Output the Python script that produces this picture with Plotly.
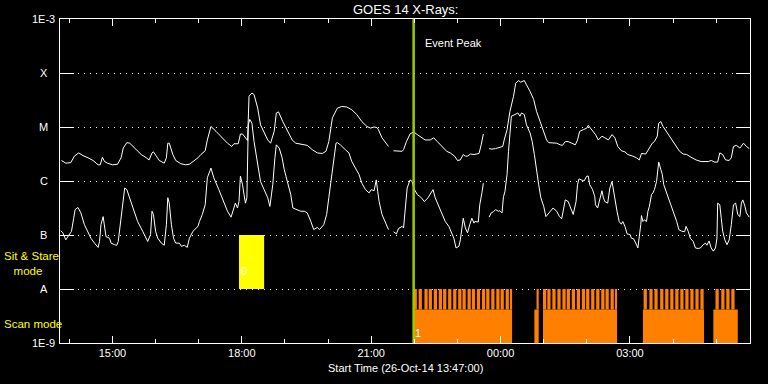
import plotly.graph_objects as go
from datetime import datetime, timedelta

START = datetime(2014, 10, 26, 13, 47)
END = datetime(2014, 10, 27, 5, 47)

# GOES 14 long channel: minutes after start, log10 flux (W/m^2); None = data gap
long_min = [
    2, 8, 15, 20, 26, 32, 39, 46, 53, 56,
    59, 62, 66, 73, 80, 85, 88, 93, 97, 104,
    113, 120, 124, 128, 130, 134, 138, 145, 148, 150,
    152, 157, 161, 168, 175, 180, 187, 192, 196, 202,
    205, 210, 217, 226, 233, 239, 242, 248, 251, 254,
    258, 261, 263, 267, 270, 275, 279, 284, 289, 293,
    298, 301, 304, 310, 316, 323, 328, 337, 344, 351,
    358, 365, 370, 374, 379, 384, 386, 392, 399, 406,
    413, 420, 427, 432, 437, 441, 443, 448, 453, 457,
    None, 464, 471, 476, 478, 482, 487, 492, 497, 502,
    508, 515, 520, 525, 532, 538, 543, 549, 553, 557,
    561, 564, 567, 571, 576, 583, 586, 589, None, 597,
    601, 606, 612, 616, 618, 622, 626, 631, 634, 638,
    641, 646, 649, 654, 659, 663, 668, 673, 677, 680,
    686, 691, 696, 699, 703, 707, 712, 717, 720, 723,
    728, 733, 735, 739, 742, 745, 749, 754, 758, 763,
    768, 772, 776, 781, 786, 790, 797, 802, 806, 809,
    815, 819, 824, 827, 831, 833, 836, 839, 844, 848,
    853, 858, 862, 867, 872, 878, 885, 892, 902, 906,
    911, 915, 918, 922, 926, 931, 934, 937, 941, 946,
    951, 955, 959]
long_log = [
    -5.62, -5.67, -5.66, -5.54, -5.48, -5.53, -5.57, -5.62, -5.70, -5.70,
    -5.56, -5.64, -5.67, -5.70, -5.69, -5.57, -5.39, -5.29, -5.30, -5.39,
    -5.51, -5.57, -5.61, -5.48, -5.46, -5.54, -5.62, -5.67, -5.57, -5.30,
    -5.30, -5.51, -5.62, -5.68, -5.70, -5.69, -5.62, -5.57, -5.51, -5.44,
    -5.24, -4.99, -5.08, -5.20, -5.30, -5.36, -5.31, -5.31, -5.13, -5.13,
    -5.20, -5.25, -4.43, -4.37, -4.40, -4.65, -4.96, -5.11, -5.24, -5.30,
    -5.08, -4.74, -4.72, -4.90, -5.05, -5.24, -5.30, -5.33, -5.34, -5.42,
    -5.48, -5.49, -5.45, -5.27, -4.83, -4.70, -4.65, -4.62, -4.63, -4.68,
    -4.77, -4.90, -4.99, -5.02, -5.00, -5.01, -5.05, -5.20, -5.30, -5.36,
    None, -5.44, -5.45, -5.45, -5.42, -5.27, -5.13, -5.09, -5.14, -5.19,
    -5.24, -5.24, -5.20, -5.27, -5.36, -5.45, -5.48, -5.54, -5.62, -5.61,
    -5.51, -5.54, -5.54, -5.50, -5.51, -5.49, -5.33, -5.13, None, -5.40,
    -5.41, -5.40, -5.38, -5.36, -5.24, -5.05, -4.71, -4.43, -4.19, -4.14,
    -4.17, -4.14, -4.22, -4.34, -4.49, -4.71, -4.90, -5.08, -5.24, -5.29,
    -5.29, -5.30, -5.33, -5.34, -5.27, -5.27, -5.30, -5.33, -5.24, -5.08,
    -5.05, -5.02, -4.97, -5.04, -5.08, -5.14, -5.24, -5.17, -5.20, -5.24,
    -5.14, -5.20, -5.36, -5.44, -5.46, -5.51, -5.54, -5.57, -5.61, -5.49,
    -5.50, -5.40, -5.30, -5.27, -5.17, -4.93, -4.90, -4.99, -5.09, -5.16,
    -5.27, -5.36, -5.45, -5.50, -5.51, -5.56, -5.61, -5.64, -5.64, -5.62,
    -5.65, -5.65, -5.48, -5.51, -5.61, -5.62, -5.57, -5.36, -5.34, -5.39,
    -5.30, -5.36, -5.40]

# GOES 14 short channel
short_min = [
    1, 4, 8, 13, 16, 19, 21, 25, 29, 34,
    39, 43, 48, 53, 55, 57, 60, 62, 64, 69,
    71, 76, 79, 81, 84, 87, 90, 93, 97, 101,
    108, 115, 122, 126, 128, 130, 133, 136, 141, 145,
    148, 150, 152, 155, 158, 161, 166, 169, 173, 177,
    180, 185, 192, 194, 198, 202, 205, 210, 214, 221,
    228, 233, 238, 241, 244, 247, 249, 251, 254, 256,
    258, 260, 262, 264, 267, 270, 275, 279, 284, 289,
    292, 296, 299, 301, 305, 309, 312, 316, 321, 324,
    330, 335, 340, 344, 349, 353, 358, 361, 367, 371,
    374, 378, 384, 386, 390, 397, 402, 406, 411, 416,
    420, 425, 430, 433, 437, 440, 442, 444, 448, 453,
    457, None, 464, 468, 471, 476, 478, 480, 483, 487,
    490, 492, 497, 502, 507, 512, 515, 519, 522, 527,
    532, 536, 541, 544, 548, 551, 555, 557, 561, 564,
    567, 570, 573, 576, 577, 582, 584, 587, 589, None,
    597, 600, 603, 606, 610, 612, 615, 617, 619, 622,
    624, 626, 628, 633, 637, 640, 642, 646, 649, 654,
    657, 660, 663, 666, 669, 673, 676, 680, 683, 686,
    691, 695, 698, 700, 703, 707, 711, 714, 718, 720,
    722, 726, 729, 733, 735, 737, 741, 744, 745, 748,
    751, 754, 756, 758, 762, 765, 768, 770, 773, 775,
    778, 781, 783, 786, 789, 793, 795, 798, 801, 804,
    808, 809, 811, 813, 816, 818, 820, 823, 825, 827,
    830, 832, 833, 836, 838, 840, 844, 848, 853, 858,
    861, 865, 869, 871, 874, 877, 881, 884, 888, 891,
    895, 898, 900, 903, 906, 909, 912, 914, 915, 918,
    920, 922, 925, 928, 931, 933, 934, 937, 940, 943,
    946, 948, 950, 953, 955, 959]
short_log = [
    -6.92, -6.96, -7.09, -6.99, -6.93, -6.69, -6.53, -6.49, -6.59, -6.81,
    -6.96, -7.06, -7.15, -7.23, -7.12, -6.81, -6.66, -6.87, -7.03, -7.06,
    -7.15, -7.18, -7.19, -7.12, -6.75, -6.38, -6.13, -6.16, -6.31, -6.50,
    -6.75, -6.93, -7.12, -6.99, -6.56, -6.62, -6.93, -7.06, -7.15, -7.19,
    -6.81, -6.31, -6.41, -6.81, -7.06, -7.15, -7.15, -7.21, -7.19, -7.23,
    -7.06, -6.93, -6.84, -6.75, -6.62, -6.44, -5.94, -5.76, -5.94, -6.16,
    -6.41, -6.56, -6.67, -6.55, -6.41, -6.50, -6.38, -5.91, -6.07, -6.25,
    -6.41, -6.31, -4.96, -4.86, -4.93, -5.27, -5.64, -6.01, -6.16, -6.31,
    -6.47, -6.07, -5.57, -5.33, -5.39, -5.57, -5.79, -6.01, -6.25, -6.50,
    -6.53, -6.56, -6.56, -6.59, -6.75, -6.90, -6.86, -6.90, -6.81, -6.62,
    -6.31, -5.88, -5.30, -5.29, -5.33, -5.42, -5.48, -5.64, -5.76, -5.88,
    -6.04, -6.16, -6.22, -6.16, -6.18, -5.98, -6.19, -6.38, -6.62, -6.78,
    -6.90, None, -6.94, -6.98, -6.88, -6.84, -6.87, -6.50, -6.13, -5.98,
    -6.01, -6.13, -6.25, -6.30, -6.38, -6.31, -6.25, -6.16, -6.31, -6.47,
    -6.62, -6.75, -6.84, -6.93, -7.06, -7.24, -7.21, -7.09, -6.69, -6.87,
    -6.96, -6.81, -6.69, -6.78, -6.75, -6.76, -6.44, -6.22, -6.04, None,
    -6.67, -6.59, -6.57, -6.53, -6.56, -6.55, -6.59, -6.29, -6.20, -5.88,
    -5.45, -5.11, -4.80, -4.77, -4.74, -4.80, -4.74, -4.77, -4.96, -5.11,
    -5.27, -5.51, -5.82, -6.07, -6.31, -6.47, -6.66, -6.59, -6.53, -6.50,
    -6.56, -6.66, -6.70, -6.53, -6.35, -6.38, -6.50, -6.62, -6.38, -6.07,
    -5.96, -5.98, -6.00, -5.91, -5.91, -6.07, -6.16, -6.29, -6.44, -6.50,
    -6.31, -6.18, -6.31, -6.38, -6.41, -6.13, -6.01, -6.19, -6.38, -6.56,
    -6.75, -6.80, -6.75, -6.84, -6.98, -6.99, -7.06, -7.07, -7.15, -7.24,
    -6.81, -6.64, -6.75, -6.72, -6.75, -6.56, -6.47, -6.25, -6.22, -6.16,
    -6.01, -5.70, -5.65, -5.79, -5.88, -6.07, -6.22, -6.35, -6.56, -6.75,
    -6.90, -6.93, -6.94, -6.84, -6.93, -7.06, -7.12, -7.24, -7.25, -7.24,
    -7.18, -7.15, -7.19, -7.11, -7.24, -7.30, -7.24, -7.06, -6.41, -6.44,
    -6.69, -6.93, -7.09, -7.18, -7.09, -6.93, -6.81, -6.44, -6.41, -6.62,
    -6.66, -6.41, -6.35, -6.47, -6.59, -6.67]

# Observing modes (minutes after start)
sit_stare_start = [249]
sit_stare_end = [284]
scan_block_start = [492, 660, 672, 811, 909]
scan_block_end = [629, 666, 775, 896, 943]
scan_step_start = [
    492, 499, 507, 513, 520, 527, 533, 540, 547, 554, 560, 567, 573, 580,
    587, 593, 600, 607, 613, 620, 626,
    663,
    672, 678, 685, 692, 699, 705, 712, 719, 726, 732, 739, 746, 753, 759,
    766, 772,
    812, 820, 827, 835, 842, 849, 856, 863, 870, 877, 884, 891,
    912, 920, 927, 934]
scan_step_len = 4.5
event_peak_min = 492

level_vals = [-9, -8, -7, -6, -5, -4, -3]
level_text = ['1E-9', 'A', 'B', 'C', 'M', 'X', '1E-3']


def at(m):
    return None if m is None else START + timedelta(minutes=m)


FONT = 'Liberation Sans'
ORANGE = '#ff8000'

fig = go.Figure()

# Sit & stare block (between A and B levels)
fig.add_trace(go.Bar(
    x=[at((s + e) / 2) for s, e in zip(sit_stare_start, sit_stare_end)],
    y=[1.0] * len(sit_stare_start), base=-8,
    width=[(e - s) * 60000 for s, e in zip(sit_stare_start, sit_stare_end)],
    marker=dict(color='#ffff00', line=dict(width=0)), hoverinfo='skip'))

# Scan blocks: solid lower part
SOLID_TOP = -8.38
fig.add_trace(go.Bar(
    x=[at((s + e) / 2) for s, e in zip(scan_block_start, scan_block_end)],
    y=[SOLID_TOP + 9] * len(scan_block_start), base=-9,
    width=[(e - s) * 60000 for s, e in zip(scan_block_start, scan_block_end)],
    marker=dict(color=ORANGE, line=dict(width=0)), hoverinfo='skip'))

# Individual scan steps (comb on top)
step_x, step_w = [], []
for s in scan_step_start:
    end = s + scan_step_len
    for bs, be in zip(scan_block_start, scan_block_end):
        if bs <= s <= be:
            end = min(end, be)
    step_x.append(at((s + end) / 2))
    step_w.append((end - s) * 60000)
fig.add_trace(go.Bar(
    x=step_x, y=[-8 - SOLID_TOP] * len(step_x), base=SOLID_TOP, width=step_w,
    marker=dict(color=ORANGE, line=dict(width=0)), hoverinfo='skip'))

# X-ray curves
fig.add_trace(go.Scatter(
    x=[at(m) for m in long_min], y=long_log, mode='lines',
    line=dict(color='white', width=1), connectgaps=False, hoverinfo='skip'))
fig.add_trace(go.Scatter(
    x=[at(m) for m in short_min], y=short_log, mode='lines',
    line=dict(color='white', width=1), connectgaps=False, hoverinfo='skip'))

# Event peak marker
fig.add_trace(go.Scatter(
    x=[at(event_peak_min), at(event_peak_min)], y=[-9, -3], mode='lines',
    line=dict(color='#99cc00', width=2.5), hoverinfo='skip'))

annotations = []
for v, t in zip(level_vals, level_text):
    annotations.append(dict(
        x=-0.0232, xref='paper', y=v, yref='y', text=t, showarrow=False,
        xanchor='center', yanchor='middle',
        font=dict(family=FONT, size=11, color='white')))

annotations += [
    dict(x=0.5, xref='paper', y=1.0287, yref='paper', text='GOES 14 X-Rays:',
         showarrow=False, xanchor='center', yanchor='middle',
         font=dict(family=FONT, size=13, color='white')),
    dict(x=0.5, xref='paper', y=-0.078, yref='paper',
         text='Start Time (26-Oct-14 13:47:00)', showarrow=False,
         xanchor='center', yanchor='middle',
         font=dict(family=FONT, size=11, color='white')),
    dict(x=at(event_peak_min), xref='x', y=-3.44, yref='y', text='Event Peak',
         showarrow=False, xanchor='left', yanchor='middle', xshift=9,
         font=dict(family=FONT, size=11, color='white')),
    dict(x=at(sit_stare_start[0]), xref='x', y=-7.67, yref='y', text='0',
         showarrow=False, xanchor='center', yanchor='middle', xshift=5,
         font=dict(family=FONT, size=11, color='white')),
    dict(x=at(scan_block_start[0]), xref='x', y=-8.81, yref='y', text='1',
         showarrow=False, xanchor='center', yanchor='middle', xshift=4,
         font=dict(family=FONT, size=11, color='white')),
    dict(x=-0.084, xref='paper', y=-7.53, yref='y',
         text='Sit & Stare<br>\u00a0\u00a0\u00a0mode', align='left',
         showarrow=False, xanchor='left', yanchor='middle',
         font=dict(family=FONT, size=11.5, color='#ffff00')),
    dict(x=-0.084, xref='paper', y=-8.64, yref='y', text='Scan mode',
         showarrow=False, xanchor='left', yanchor='middle',
         font=dict(family=FONT, size=11.5, color='#ffff00')),
]

fig.update_layout(
    width=768, height=384,
    margin=dict(l=60, r=18, t=19, b=41),
    paper_bgcolor='black', plot_bgcolor='black',
    showlegend=False, barmode='overlay', hovermode=False,
    annotations=annotations,
    xaxis=dict(
        type='date', range=[START, END],
        tick0='2014-10-26 15:00', dtick=3 * 3600 * 1000, tickformat='%H:%M',
        ticks='inside', ticklen=7, tickcolor='white', tickwidth=1,
        showline=True, linecolor='white', linewidth=1, mirror='allticks',
        showgrid=False, zeroline=False,
        tickfont=dict(family=FONT, size=11, color='white'),
        minor=dict(tick0='2014-10-26 14:00', dtick=3600 * 1000, ticks='inside',
                   ticklen=4, tickcolor='white', showgrid=False),
    ),
    yaxis=dict(
        range=[-9, -3], tickvals=level_vals, showticklabels=False,
        ticks='inside', ticklen=14, tickcolor='white', tickwidth=1,
        showline=True, linecolor='white', linewidth=1, mirror='allticks',
        showgrid=True, gridcolor='white', gridwidth=1, griddash='1px,5px',
        zeroline=False,
    ),
)

fig.write_html(
    'out.html',
    config={'displayModeBar': False},
    post_script="document.body.style.margin='0';document.body.style.background='black';")
